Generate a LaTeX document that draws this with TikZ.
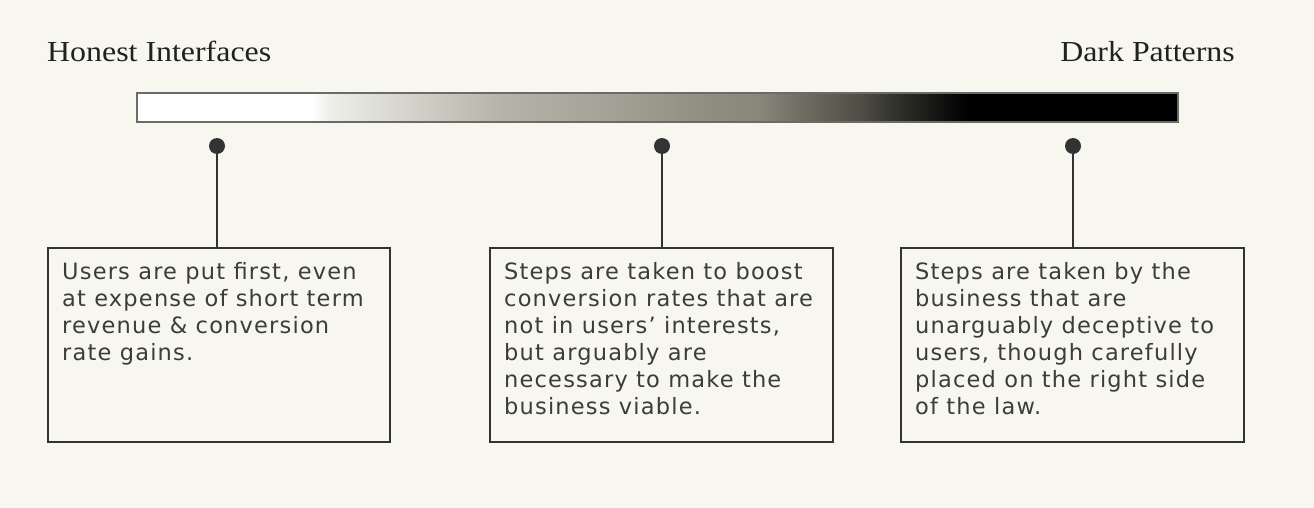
\documentclass[tikz,border=0pt]{standalone}
\usepackage{fontspec}
\setmainfont{Liberation Serif}[FakeStretch=1.1]
\newfontfamily\boxfont{DejaVu Sans}[LetterSpace=5.3]
\definecolor{bgc}{HTML}{F7F7EF}
\definecolor{inkc}{HTML}{333333}
\definecolor{boxtext}{HTML}{3C3C3C}
\definecolor{barborder}{HTML}{6A6A66}
\definecolor{ga}{HTML}{EEEEEA}
\definecolor{gb}{HTML}{D6D6CE}
\definecolor{gc}{HTML}{B4B4AA}
\definecolor{gd}{HTML}{A0A094}
\definecolor{ge}{HTML}{909082}
\definecolor{gf}{HTML}{86867A}
\definecolor{gg}{HTML}{6E6E62}
\definecolor{gh}{HTML}{4D4D45}
\definecolor{gi}{HTML}{2E2E28}
\definecolor{gj}{HTML}{111110}
\pgfdeclarehorizontalshading{spectrum}{100bp}{%
  color(0bp)=(white);
  color(25bp)=(white);
  color(33.4bp)=(white);
  color(34.3bp)=(ga);
  color(37.7bp)=(gb);
  color(42.5bp)=(gc);
  color(48.3bp)=(gd);
  color(52.1bp)=(ge);
  color(55bp)=(gf);
  color(56.9bp)=(gg);
  color(59.8bp)=(gh);
  color(61.7bp)=(gi);
  color(63.7bp)=(gj);
  color(64.9bp)=(black);
  color(75bp)=(black);
  color(100bp)=(black)}
\tikzset{
  descbox/.style={draw=inkc, line width=1.8pt, fill=bgc, inner sep=0pt, anchor=north west, minimum height=194pt},
  boxtxt/.style={anchor=north west, inner sep=0pt, align=left, text=boxtext,
    font=\boxfont\fontsize{22.5}{27}\selectfont},
  heading/.style={inner sep=0pt, text=black!87, font=\fontsize{29}{32}\selectfont},
  pin/.style={circle, fill=inkc, minimum size=16pt, inner sep=0pt},
  stem/.style={draw=inkc, line width=2.2pt}
}
\begin{document}
\begin{tikzpicture}[x=1pt, y=-1pt]
\useasboundingbox (0,0) rectangle (1314,508);
\fill[bgc] (0,0) rectangle (1314,508);
% headings
\node[heading, anchor=base west] (honest) at (47,62) {Honest Interfaces};
\node[heading, anchor=base east] (dark) at (1235,62) {Dark Patterns};
% gradient bar
\node[draw=barborder, line width=2pt, shading=spectrum, minimum width=1041pt,
  minimum height=29pt, inner sep=0pt, anchor=north west] (bar) at (135.5,92.5) {};
% pins
\node[pin] (p1) at (217,146) {};
\node[pin] (p2) at (662,146) {};
\node[pin] (p3) at (1073,146) {};
% boxes
\node[descbox, minimum width=342pt] (b1) at (47,247) {};
\node[descbox, minimum width=343pt] (b2) at (489,247) {};
\node[descbox, minimum width=343pt] (b3) at (900,247) {};
\coordinate (t1) at (217,247);
\coordinate (t2) at (662,247);
\coordinate (t3) at (1073,247);
\draw[stem] (p1.center) -- (t1);
\draw[stem] (p2.center) -- (t2);
\draw[stem] (p3.center) -- (t3);
% texts
\node[boxtxt] (x1) at (62,262) {Users are put first, even\\at expense of short term\\revenue \& conversion\\rate gains.};
\node[boxtxt] (x2) at (504,262) {Steps are taken to boost\\conversion rates that are\\not in users’ interests,\\but arguably are\\necessary to make the\\business viable.};
\node[boxtxt] (x3) at (915,262) {Steps are taken by the\\business that are\\unarguably deceptive to\\users, though carefully\\placed on the right side\\of the law.};
\end{tikzpicture}
\end{document}
